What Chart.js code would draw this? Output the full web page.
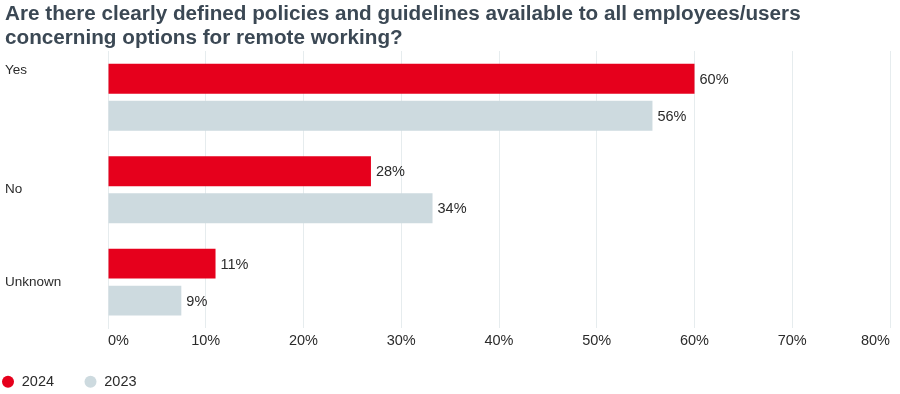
<!DOCTYPE html>
<html>
<head>
<meta charset="utf-8">
<script src="https://cdn.jsdelivr.net/npm/chart.js@4.4.1/dist/chart.umd.min.js"></script>
<style>
    html, body { margin: 0; padding: 0; background: #fff; }
    #wrap { width: 900px; height: 394px; }
</style>
</head>
<body>
<div id="wrap"><canvas id="chart"></canvas></div>
<script>
// Данные
const categories = ['Yes', 'No', 'Unknown'];
const values2024 = [60, 26.9, 11];
const values2023 = [55.7, 33.2, 7.5];
// подписи на концах столбцов (как в оригинале)
const shown2024 = [60, 28, 11];
const shown2023 = [56, 34, 9];
const xTicks = [0, 10, 20, 30, 40, 50, 60, 70, 80];

const RED = '#e6001c';
const GREY = '#cddadf';
const TEXT = '#2b2b2b';
const FONT = "'Liberation Sans', Arial, sans-serif";
const LEGEND_GAP = 30;

// подписи значений справа от столбцов
const barLabels = {
    id: 'barLabels',
    afterDatasetsDraw(chart) {
        const ctx = chart.ctx;
        const shown = [shown2024, shown2023];
        ctx.save();
        ctx.font = `14.5px ${FONT}`;
        ctx.fillStyle = TEXT;
        ctx.textBaseline = 'middle';
        ctx.textAlign = 'left';
        chart.data.datasets.forEach((ds, i) => {
            chart.getDatasetMeta(i).data.forEach((bar, j) => {
                ctx.fillText(`${shown[i][j]}%`, bar.x + 5, bar.y + 1);
            });
        });
        ctx.restore();
    }
};

// легенда: прижать к левому краю и чуть поднять
const legendShift = {
    id: 'legendShift',
    afterLayout(chart) {
        const dx = LEGEND_GAP + 3.5;
        chart.legend.left -= dx;
        chart.legend.right -= dx;
        chart.legend.top -= 9;
        chart.legend.bottom -= 9;
    }
};

const ctx = document.getElementById('chart').getContext('2d');
new Chart(ctx, {
    type: 'bar',
    data: {
        // "Yes" в оригинале стоит выше центра группы
        labels: categories.map((c, i) => i === 0 ? [c, '', '', ''] : c),
        datasets: [
            {
                label: '2024',
                data: values2024,
                backgroundColor: RED,
                barPercentage: 0.81,
                categoryPercentage: 0.8
            },
            {
                label: '2023',
                data: values2023,
                backgroundColor: GREY,
                barPercentage: 0.81,
                categoryPercentage: 0.8
            }
        ]
    },
    options: {
        indexAxis: 'y',
        responsive: true,
        maintainAspectRatio: false,
        animation: false,
        layout: { padding: { left: 5, right: 10, top: 0, bottom: -14 } },
        plugins: {
            title: {
                display: true,
                align: 'start',
                text: [
                    'Are there clearly defined policies and guidelines available to all employees/users',
                    'concerning options for remote working?'
                ],
                color: '#3b4854',
                font: { family: FONT, size: 20.7, weight: 'bold', lineHeight: 1.16 },
                padding: { top: 2, bottom: 1 }
            },
            legend: {
                position: 'bottom',
                align: 'start',
                labels: {
                    usePointStyle: true,
                    pointStyle: 'circle',
                    boxWidth: 13,
                    boxHeight: 8.5,
                    padding: LEGEND_GAP,
                    color: TEXT,
                    font: { family: FONT, size: 14.5 }
                }
            },
            tooltip: { enabled: false }
        },
        scales: {
            x: {
                min: 0,
                max: 80,
                afterBuildTicks: (scale) => { scale.ticks = xTicks.map(v => ({ value: v })); },
                afterFit: (scale) => { scale.paddingLeft = 0; scale.paddingRight = 0; },
                grid: { color: '#e6ecee', drawTicks: false },
                border: { display: false },
                ticks: {
                    padding: 7.5,
                    align: 'inner',
                    color: TEXT,
                    font: { family: FONT, size: 14.5, lineHeight: 0.7 },
                    callback: (v) => `${v}%`
                }
            },
            y: {
                grid: { display: false },
                border: { color: '#e6ecee' },
                afterFit: (scale) => { scale.width = 103; },
                ticks: {
                    crossAlign: 'far',
                    color: TEXT,
                    font: { family: FONT, size: 13.5, lineHeight: 1.35 }
                }
            }
        }
    },
    plugins: [barLabels, legendShift]
});
</script>
</body>
</html>
